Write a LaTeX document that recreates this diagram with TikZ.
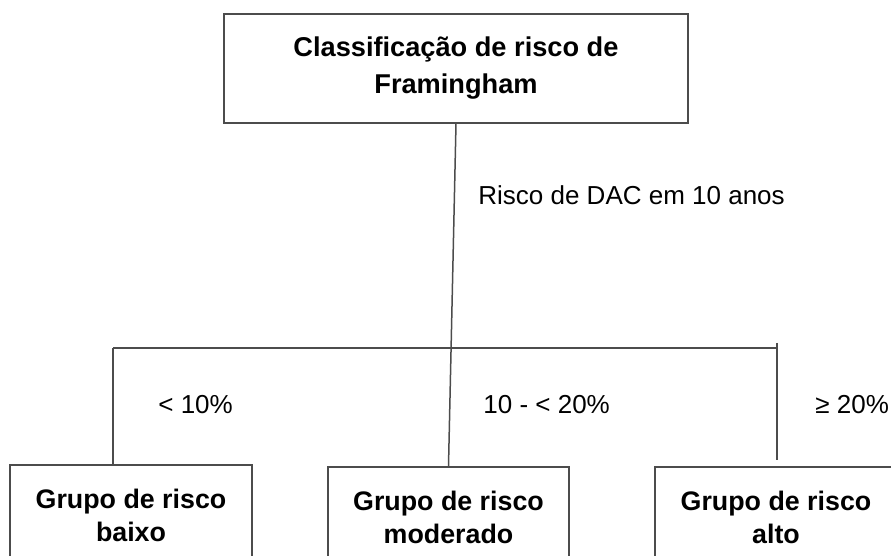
\documentclass[tikz,border=0pt]{standalone}
\usepackage{fontspec}
\setmainfont{Liberation Sans}
\usepackage{tikz}

\tikzset{
    caixa/.style={draw=black!70, line width=0.75pt, shape=rectangle, align=center, font=\fontsize{13.4}{16.5}\selectfont\bfseries},
    rotulo/.style={anchor=west, inner sep=0pt, font=\fontsize{13}{15}\selectfont},
    linha/.style={draw=black!70, line width=0.75pt}
}

\begin{document}
\begin{tikzpicture}[x=0.5pt, y=-0.5pt]
        \useasboundingbox (0,0) rectangle (891,556);
        \clip (0,0) rectangle (891,556);
        \draw (456,68.5) node (classif) [caixa, minimum width=232pt, minimum height=54.5pt, font=\fontsize{13.6}{18.5}\selectfont\bfseries] {Classificação de risco de\\Framingham};
        \draw (131,515) node (baixo) [caixa, minimum width=121pt, minimum height=50pt] {Grupo de risco\\baixo};
        \draw (448.5,517) node (moderado) [caixa, minimum width=120.5pt, minimum height=50pt] {Grupo de risco\\moderado};
        \draw (776,517) node (alto) [caixa, minimum width=121pt, minimum height=50pt] {Grupo de risco\\alto};
        \coordinate (esq) at (113,348);
        \coordinate (dir) at (777,343);
        \coordinate (dirfim) at (777,460);
        \draw[linha] (classif.south) -- (moderado.north);
        \draw[linha] (esq) -- (esq -| dir);
        \draw[linha] (esq) -- (esq |- baixo.north);
        \draw[linha] (dir) -- (dirfim);
        \draw (478,195) node (dac) [rotulo] {Risco de DAC em 10 anos};
        \draw (158,405) node (menos) [rotulo] {< 10\%};
        \draw (483,405) node (meio) [rotulo] {10 - < 20\%};
        \draw (815,405) node (mais) [rotulo] {≥ 20\%};
    \end{tikzpicture}
\end{document}
